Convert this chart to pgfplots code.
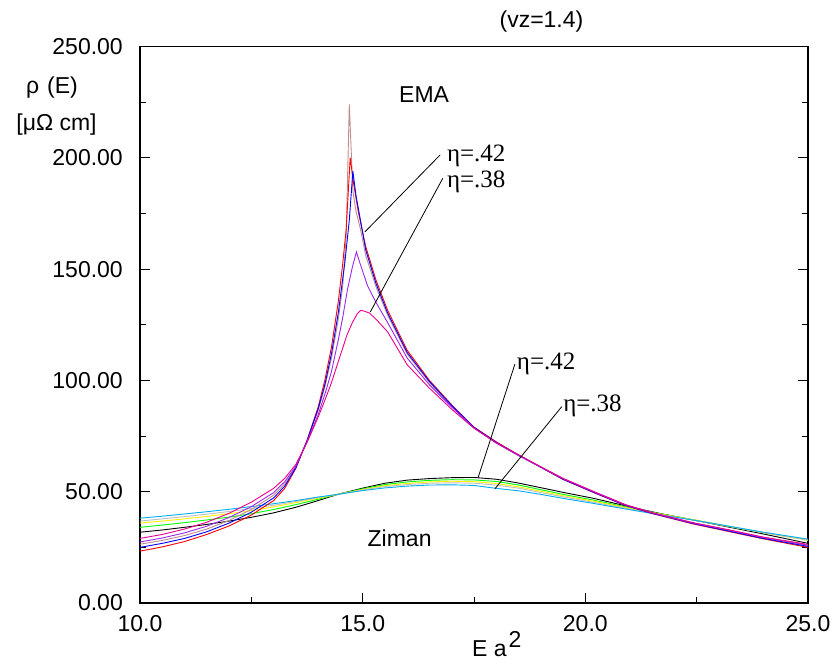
\documentclass[border=0pt]{standalone}
\usepackage{pgfplots}
\pgfplotsset{compat=1.18}
\usepackage{fontspec}
\setmainfont{Liberation Sans}
\newfontfamily\serifeta{Liberation Serif}
\newcommand{\bigfont}{\fontsize{23}{27}\selectfont}
\newcommand{\etafont}{\serifeta\fontsize{25}{29}\selectfont}
\definecolor{rosy}{RGB}{190,140,140}
\definecolor{vio}{RGB}{155,40,235}
\definecolor{lgray}{RGB}{190,190,190}
\begin{document}
\begin{tikzpicture}
\useasboundingbox (-140pt,-60pt) rectangle (694pt,603pt);
\begin{axis}[
  scale only axis, width=668pt, height=556.5pt,
  xmin=10, xmax=25, ymin=0, ymax=250,
  clip=false,
  axis line style={line width=1.5pt},
  xtick={10,15,20,25}, minor xtick={12.5,17.5,22.5},
  ytick={0,50,100,150,200,250}, minor ytick={25,75,125,175,225},
  tick align=inside,
  xtick pos=lower, ytick pos=both, yticklabel pos=left,
  major tick length=10pt, minor tick length=6pt,
  every tick/.style={black, line width=1pt},
  scaled ticks=false,
  /pgf/number format/assume math mode=true,
  xticklabel style={/pgf/number format/fixed, /pgf/number format/fixed zerofill, /pgf/number format/precision=1, font=\bigfont, inner sep=0pt, anchor=north, yshift=-12pt},
  yticklabel style={/pgf/number format/fixed, /pgf/number format/fixed zerofill, /pgf/number format/precision=2, font=\bigfont, inner sep=0pt, anchor=east, xshift=-17pt},
]
% Ziman curves
\addplot[black, line width=0.9pt] coordinates {(10,31.8)(10.5,32.8)(11,34)(11.5,35.3)(12,36.8)(12.5,38.5)(13,40.5)(13.5,43)(14,46)(14.44,48.8)(15,51.6)(15.5,53.8)(16,55.2)(16.5,55.9)(17,56.3)(17.5,56.4)(18,55.6)(18.47,54)(19,51.8)(19.5,49.7)(20.19,47)(21,43.2)(21.68,40.2)(22.5,37)(23.17,34.3)(24,31)(25,26.8)};
\addplot[green, line width=0.9pt] coordinates {(10,34)(10.5,35)(11,36.1)(11.5,37.3)(12,38.6)(12.5,40.1)(13,42)(13.5,44.2)(14,46.6)(14.44,48.8)(15,51.3)(15.5,53.2)(16,54.4)(16.5,55.1)(17,55.4)(17.5,55.3)(18,54.6)(18.5,53)(19,50.9)(19.5,48.8)(20.19,46.2)(21,42.8)(21.68,40.1)(22.5,37.1)(23.17,34.6)(24,31.6)(25,28.3)};
\addplot[yellow, line width=0.9pt] coordinates {(10,35.9)(10.5,36.8)(11,37.8)(11.5,38.9)(12,40.1)(12.5,41.5)(13,43.2)(13.5,45.1)(14,47.1)(14.44,48.8)(15,51)(15.5,52.7)(16,53.7)(16.5,54.4)(17,54.7)(17.5,54.5)(18,53.7)(18.5,52.2)(19,50.2)(19.5,48.2)(20.19,45.7)(21,42.5)(21.68,40)(22.5,37.1)(23.17,34.6)(24,31.6)(25,28.2)};
\addplot[lgray, line width=0.9pt] coordinates {(10,36.8)(10.5,37.8)(11,38.8)(11.5,39.9)(12,41.1)(12.5,42.4)(13,43.9)(13.5,45.6)(14,47.4)(14.44,48.8)(15,50.8)(15.5,52.3)(16,53.2)(16.5,53.8)(17,54)(17.5,53.8)(18,53)(18.5,51.6)(19,49.6)(19.5,47.7)(20.19,45.2)(21,42.2)(21.68,39.8)(22.5,37)(23.17,34.6)(24,31.6)(25,28.2)};
\addplot[cyan, line width=0.9pt] coordinates {(10,38.1)(10.5,39)(11,40)(11.5,41)(12,42.1)(12.5,43.3)(13,44.6)(13.5,46)(14,47.6)(14.44,48.8)(15,50.5)(15.5,51.7)(16,52.5)(16.5,53)(17,53.1)(17.5,52.8)(18,51.5)(18.5,50.4)(19,48.8)(19.5,47)(20.19,44.7)(21,41.9)(21.68,39.6)(22.5,37)(23.17,34.7)(24,31.8)(25,28.7)};
% EMA curves
\addplot[rosy, line width=0.9pt] coordinates {(10,26.4)(10.5,28.1)(11,30.3)(11.5,33.2)(12,37.1)(12.5,42)(13,48.4)(13.25,53.5)(13.5,61)(13.75,72.8)(14.0,86.5)(14.15,97)(14.3,110)(14.45,127)(14.55,142)(14.63,165)(14.70,224)(14.78,185)(14.85,176)(14.95,168)(15.07,156)(15.3,142)(15.56,129.3)(16.0,111.8)(16.5,99)(17,88.5)(17.5,78.8)(18,72)(18.5,66.3)(19,61)(19.5,55.7)(20.2,49.7)(20.9,44)(21.5,40.4)(22.4,35.9)(23.2,32.6)(24,29.2)(25,25.7)};
\addplot[red, line width=0.9pt] coordinates {(10,23.3)(10.5,25.2)(11,27.6)(11.5,30.8)(12,34.6)(12.5,39.5)(13,46)(13.25,51.5)(13.5,60.5)(13.75,73)(14.0,88)(14.15,100)(14.3,115)(14.45,135)(14.55,152)(14.63,168)(14.72,200)(14.8,188)(14.9,176)(15.0,166.5)(15.07,160)(15.3,145)(15.56,131.5)(16.0,113.5)(16.5,100)(17,89)(17.5,79)(18.0,72.4)(18.5,66.5)(19.0,61)(19.5,55.5)(20.2,49.5)(20.9,43.8)(21.5,40.2)(22.4,35.6)(23.2,32.2)(24,28.8)(25,25)};
\addplot[blue, line width=0.9pt] coordinates {(10,25)(10.5,26.8)(11,29)(11.5,32)(12,35.9)(12.5,40.8)(13,47.2)(13.25,52.5)(13.5,60.8)(13.75,72.9)(14.0,87.2)(14.15,98)(14.3,112)(14.45,130)(14.6,153)(14.7,172)(14.78,194)(14.85,183)(14.95,172)(15.07,158.5)(15.3,143.5)(15.56,130.3)(16.0,112.5)(16.5,99.5)(17,88.7)(17.5,78.9)(18.0,72.2)(18.5,66.4)(19.0,61)(19.5,55.6)(20.2,49.6)(20.9,43.9)(21.5,40.3)(22.4,35.8)(23.2,32.4)(24,29)(25,25.4)};
\addplot[vio, line width=0.9pt] coordinates {(10,27.4)(10.5,29.2)(11,31.5)(11.5,34.5)(12,38.4)(12.5,43.3)(13,49.6)(13.25,54.5)(13.5,61.5)(13.75,72.5)(14.0,84.5)(14.17,95)(14.3,104)(14.44,117)(14.55,128)(14.66,141)(14.77,151)(14.86,157.7)(14.95,152)(15.11,142.5)(15.3,135)(15.56,126)(16.0,110)(16.5,98)(17,88)(17.5,78.6)(18,71.8)(18.5,66.2)(19,61)(19.5,55.8)(20.2,49.8)(20.9,44.1)(21.5,40.5)(22.4,36)(23.2,32.8)(24,29.4)(25,26)};
\addplot[magenta, line width=0.9pt] coordinates {(10,29)(10.5,30.8)(11,33.2)(11.5,36.3)(12,40.3)(12.5,45.3)(13,51.5)(13.25,56)(13.5,62.3)(13.75,72)(14.0,83.5)(14.14,90.5)(14.3,99)(14.51,112)(14.65,120.5)(14.77,126)(14.88,130)(14.96,131.5)(15.05,131)(15.15,130.3)(15.3,127.5)(15.56,121.8)(16.0,107)(16.5,96.5)(17,87)(17.5,78.5)(18,72)(18.5,66.6)(19,61.2)(19.5,56)(20.2,50)(20.9,44.2)(21.5,40.6)(22.4,36.2)(23.2,33)(24,29.6)(25,26.3)};
% annotations
\draw[black, line width=0.8pt] (axis cs:16.74,201.3) -- (axis cs:15.05,166.7);
\draw[black, line width=0.8pt] (axis cs:16.80,190.8) -- (axis cs:15.17,130.7);
\draw[black, line width=0.8pt] (axis cs:18.42,107.4) -- (axis cs:17.59,56.2);
\draw[black, line width=0.8pt] (axis cs:19.47,88.2) -- (axis cs:17.97,51.3);
\node[font=\etafont, anchor=base west, inner sep=0pt] at (axis cs:16.89,198.2) {η=.42};
\node[font=\etafont, anchor=base west, inner sep=0pt] at (axis cs:16.89,186.7) {η=.38};
\node[font=\etafont, anchor=base west, inner sep=0pt] at (axis cs:18.46,104.7) {η=.42};
\node[font=\etafont, anchor=base west, inner sep=0pt] at (axis cs:19.50,85.9) {η=.38};
\node[font=\bigfont, inner sep=0pt] at (axis cs:16.38,228.2) {EMA};
\node[font=\bigfont, inner sep=0pt] at (axis cs:15.83,29.2) {Ziman};
\node[font=\bigfont, inner sep=0pt] at (rel axis cs:0.601,1.044) {(vz=1.4)};
\node[font=\bigfont, inner sep=0pt] at (rel axis cs:-0.1317,0.9254) {ρ\hspace{8pt}(E)};
\node[font=\bigfont, inner sep=0pt] at (rel axis cs:-0.125,0.859) {[μΩ cm]};
\node[font=\bigfont, inner sep=0pt, anchor=base] at (rel axis cs:0.534,-0.0965) {E a\hspace{2pt}\raisebox{9pt}{2}};
\end{axis}
\end{tikzpicture}
\end{document}
